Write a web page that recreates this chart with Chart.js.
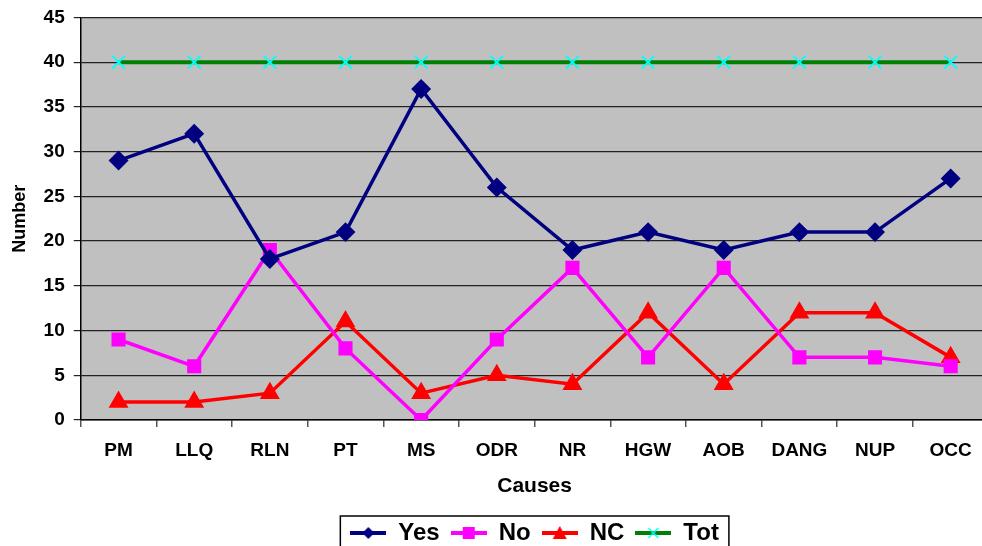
<!DOCTYPE html>
<html>
<head>
<meta charset="utf-8">
<script src="https://cdn.jsdelivr.net/npm/chart.js@4.4.0/dist/chart.umd.min.js"></script>
<style>
  html, body { margin: 0; padding: 0; overflow: hidden; background: #fff; }
  #wrap { width: 1000px; height: 546px; overflow: hidden; }
  #linechart { display: block; margin-top: -3px; }
</style>
</head>
<body>
<div id="wrap"><canvas id="linechart" width="1000" height="558"></canvas></div>
<script>
const causes = ['PM', 'LLQ', 'RLN', 'PT', 'MS', 'ODR', 'NR', 'HGW', 'AOB', 'DANG', 'NUP', 'OCC'];
const yes = [29, 32, 18, 21, 37, 26, 19, 21, 19, 21, 21, 27];
const no = [9, 6, 19, 8, 0, 9, 17, 7, 17, 7, 7, 6];
const nc = [2, 2, 3, 11, 3, 5, 4, 12, 4, 12, 12, 7];
const tot = [40, 40, 40, 40, 40, 40, 40, 40, 40, 40, 40, 40];

const FONT = 'Liberation Sans, Arial, sans-serif';

// little legend icons: line with the marker in the middle
function legendIcon(color, marker, markerColor) {
  const c = document.createElement('canvas');
  c.width = 36; c.height = 18;
  const g = c.getContext('2d');
  g.strokeStyle = color;
  g.lineWidth = 4;
  g.beginPath(); g.moveTo(0, 9); g.lineTo(36, 9); g.stroke();
  g.fillStyle = markerColor;
  g.strokeStyle = markerColor;
  g.beginPath();
  if (marker === 'diamond') {
    g.moveTo(18, 3); g.lineTo(24, 9); g.lineTo(18, 15); g.lineTo(12, 9); g.closePath(); g.fill();
  } else if (marker === 'square') {
    g.rect(12, 3, 12, 12); g.fill();
  } else if (marker === 'triangle') {
    g.moveTo(18, 2); g.lineTo(25, 15); g.lineTo(11, 15); g.closePath(); g.fill();
  } else {
    g.lineWidth = 1.5;
    g.moveTo(13, 4); g.lineTo(23, 14); g.moveTo(23, 4); g.lineTo(13, 14); g.stroke();
  }
  return c;
}

const plotBg = {
  id: 'plotBg',
  beforeDraw(chart) {
    const a = chart.chartArea, ctx = chart.ctx;
    ctx.save();
    ctx.fillStyle = '#c0c0c0';
    ctx.fillRect(a.left, a.top, a.right - a.left, a.bottom - a.top);
    ctx.restore();
  }
};

const legendBorder = {
  id: 'legendBorder',
  afterDraw(chart) {
    const boxes = chart.legend.legendHitBoxes;
    if (!boxes || !boxes.length) return;
    let l = Infinity, r = -Infinity, t = Infinity, b = -Infinity;
    boxes.forEach(h => {
      l = Math.min(l, h.left); r = Math.max(r, h.left + h.width);
      t = Math.min(t, h.top); b = Math.max(b, h.top + h.height);
    });
    const ctx = chart.ctx;
    ctx.save();
    ctx.strokeStyle = '#000';
    ctx.lineWidth = 1.5;
    ctx.strokeRect(l - 10, t - 5, r - l + 20, b - t + 12);
    ctx.restore();
  }
};

new Chart(document.getElementById('linechart'), {
  type: 'line',
  data: {
    labels: causes,
    datasets: [
      { label: 'Yes', data: yes, borderColor: '#000080', backgroundColor: '#000080',
        pointStyle: 'rectRot', pointRadius: 7.5, borderWidth: 3.5,
        legendIcon: legendIcon('#000080', 'diamond', '#000080') },
      { label: 'No', data: no, borderColor: '#ff00ff', backgroundColor: '#ff00ff',
        pointStyle: 'rect', pointRadius: 7.5, borderWidth: 3.5,
        legendIcon: legendIcon('#ff00ff', 'square', '#ff00ff') },
      { label: 'NC', data: nc, borderColor: '#ff0000', backgroundColor: '#ff0000',
        pointStyle: 'triangle', pointRadius: 8, borderWidth: 3.5,
        legendIcon: legendIcon('#ff0000', 'triangle', '#ff0000') },
      { label: 'Tot', data: tot, borderColor: '#008000', backgroundColor: '#00ffff',
        pointStyle: 'crossRot', pointRadius: 9, borderWidth: 4,
        pointBorderColor: '#00ffff', pointBorderWidth: 1.8,
        legendIcon: legendIcon('#008000', 'cross', '#00ffff') }
    ]
  },
  options: {
    responsive: false,
    animation: false,
    layout: { padding: { left: 9, right: 10, top: 0, bottom: 0 } },
    plugins: {
      tooltip: { enabled: false },
      legend: {
        position: 'bottom',
        fullSize: false,
        labels: {
          usePointStyle: true,
          pointStyleWidth: 36,
          boxHeight: 18,
          padding: 11,
          color: '#000',
          font: { family: FONT, size: 24, weight: 'bold' },
          generateLabels(chart) {
            return chart.data.datasets.map((ds, i) => ({
              text: ds.label, pointStyle: ds.legendIcon, datasetIndex: i,
              fillStyle: ds.borderColor, strokeStyle: ds.borderColor, lineWidth: 0, hidden: false
            }));
          }
        }
      }
    },
    scales: {
      x: {
        offset: true,
        border: { color: '#000', width: 1.5 },
        grid: { offset: true, drawOnChartArea: false, drawTicks: true, tickLength: 7, color: '#555', lineWidth: 1.5 },
        ticks: { color: '#000', padding: 12, font: { family: FONT, size: 19, weight: 'bold' } },
        title: { display: true, text: 'Causes', color: '#000', padding: { top: 0, bottom: 11 },
          font: { family: FONT, size: 21, weight: 'bold' } }
      },
      y: {
        min: 0, max: 45,
        border: { color: '#000', width: 1.5 },
        grid: { color: '#222', lineWidth: 1.2, tickLength: 7 },
        ticks: { stepSize: 5, color: '#000', padding: 9, font: { family: FONT, size: 19, weight: 'bold' } },
        title: { display: true, text: 'Number', color: '#000', padding: { top: 0, bottom: 4 },
          font: { family: FONT, size: 18, weight: 'bold' } }
      }
    }
  },
  plugins: [plotBg, legendBorder]
});
</script>
</body>
</html>
